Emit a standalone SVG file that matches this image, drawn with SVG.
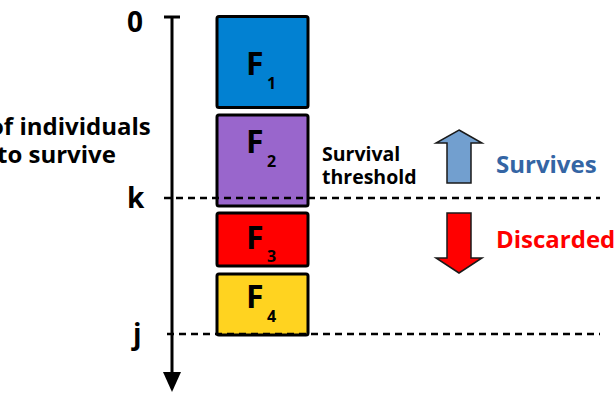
<svg xmlns="http://www.w3.org/2000/svg" width="614" height="394" viewBox="0 0 614 394">
  <style>
    text { font-family: "Open Sans", "DejaVu Sans", sans-serif; font-weight: 700; }
    .box { stroke: #000; stroke-width: 3; }
    .lbl { font-size: 32px; }
    .sub { font-size: 16px; }
    .axis-lbl { font-size: 28px; }
    .dash { stroke: #000; stroke-width: 2.5; stroke-dasharray: 7 5; fill: none; }
    .note { font-size: 19.5px; fill: #000; }
    .side { font-size: 24px; }
    .arr { stroke: #1a1a1a; stroke-width: 1.5; stroke-linejoin: miter; }
  </style>

  <g id="axis-labels">
    <text class="axis-lbl" x="127" y="32">0</text>
    <text class="axis-lbl" x="127" y="208">k</text>
    <text class="axis-lbl" x="133" y="344">j</text>
  </g>

  <!-- caption runs off the left edge of the canvas -->
  <g id="side-caption">
    <text class="side" x="-11" y="135">of individuals</text>
    <text class="side" x="-3" y="163">to survive</text>
  </g>

  <g id="F1">
    <rect class="box" x="217" y="16.5" width="91" height="91" rx="2" fill="#0281d2"/>
    <text class="lbl" x="246" y="75">F</text>
    <text class="sub" x="267" y="89">1</text>
  </g>
  <g id="F2">
    <rect class="box" x="217" y="115" width="91" height="91" rx="2" fill="#9966cc"/>
    <text class="lbl" x="246" y="153">F</text>
    <text class="sub" x="267" y="167">2</text>
  </g>
  <g id="F3">
    <rect class="box" x="217" y="213" width="91" height="53" rx="2" fill="#ff0000"/>
    <text class="lbl" x="246" y="249">F</text>
    <text class="sub" x="267" y="262">3</text>
  </g>
  <g id="F4">
    <rect class="box" x="217" y="274" width="91" height="61" rx="2" fill="#ffd320"/>
    <text class="lbl" x="246" y="308">F</text>
    <text class="sub" x="267" y="322">4</text>
  </g>

  <g id="threshold-note">
    <text class="note" x="322" y="161">Survival</text>
    <text class="note" x="322" y="184">threshold</text>
  </g>

  <g id="survives">
    <path class="arr" d="M459,130 L482,143 L471,143 L471,183 L447,183 L447,143 L436,143 Z" fill="#729fcf"/>
    <text class="side" x="496" y="173" fill="#3465a4">Survives</text>
  </g>

  <g id="discarded">
    <path class="arr" d="M447,213 L471,213 L471,258 L482,258 L459,273 L436,258 L447,258 Z" fill="#ff0000"/>
    <text class="side" x="496" y="248" fill="#ff0000">Discarded</text>
  </g>

  <!-- rank axis and threshold lines, drawn over the boxes -->
  <g id="connectors">
    <line x1="164" y1="17" x2="180" y2="17" stroke="#000" stroke-width="3"/>
    <line x1="172" y1="17" x2="172" y2="373" stroke="#000" stroke-width="3"/>
    <path d="M163,372 L181,372 L172,392 Z" fill="#000"/>
    <line class="dash" x1="164" y1="198" x2="600" y2="198"/>
    <line class="dash" x1="167" y1="334" x2="600" y2="334"/>
  </g>
</svg>
